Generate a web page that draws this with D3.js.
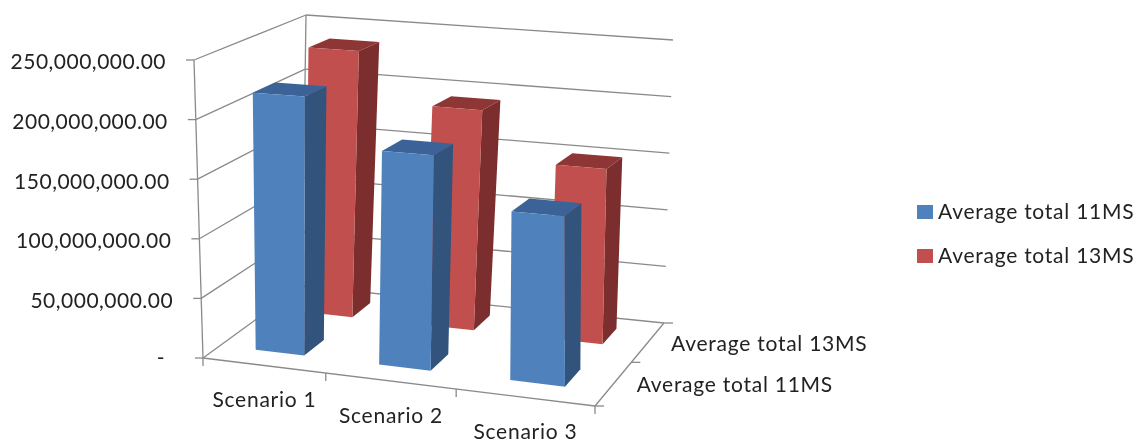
<!DOCTYPE html>
<html>
<head>
<meta charset="utf-8">
<script src="https://cdnjs.cloudflare.com/ajax/libs/d3/7.8.5/d3.min.js"></script>
<style>
html, body { margin: 0; padding: 0; background: #fff; }
svg { display: block; }
text { font-family: Lato, "Open Sans", sans-serif; fill: #222; letter-spacing: 0.75px; }
</style>
</head>
<body>
<script>
// values
var categories = ["Scenario 1", "Scenario 2", "Scenario 3"];
var seriesNames = ["Average total 11MS", "Average total 13MS"];
var values11 = [218000000, 177500000, 137000000];
var values13 = [236000000, 192000000, 150000000];
var yTicks = [0, 50000000, 100000000, 150000000, 200000000, 250000000];
var seriesColors = [
	{ front: "#4f81bd", side: "#30527c", top: "#3a6498" },
	{ front: "#c0504d", side: "#7c2f2e", top: "#8e3634" }
];

var w = 1140,
	h = 443,
	fontSize = 21;

// frame corners on screen: front-left, front-right, back-right, back-left
var floorQuad = [[203, 358], [595, 406], [664, 323], [302, 286]];
var ceilQuad = [[194, 60], [588, 86], [673, 40], [306, 15]];

// maps the unit square on to a quad, so the depth foreshortens
function homography(q) {
	var dx1 = q[1][0] - q[2][0], dx2 = q[3][0] - q[2][0], sx = q[0][0] - q[1][0] + q[2][0] - q[3][0],
		dy1 = q[1][1] - q[2][1], dy2 = q[3][1] - q[2][1], sy = q[0][1] - q[1][1] + q[2][1] - q[3][1],
		den = dx1 * dy2 - dx2 * dy1,
		g = (sx * dy2 - dx2 * sy) / den,
		k = (dx1 * sy - sx * dy1) / den;
	return function (u, v) {
		var m = g * u + k * v + 1;
		return [
			(q[0][0] + (q[1][0] - q[0][0] + g * q[1][0]) * u + (q[3][0] - q[0][0] + k * q[3][0]) * v) / m,
			(q[0][1] + (q[1][1] - q[0][1] + g * q[1][1]) * u + (q[3][1] - q[0][1] + k * q[3][1]) * v) / m
		];
	};
}

var floorMap = homography(floorQuad),
	ceilMap = homography(ceilQuad);

var xScale = d3.scaleBand().domain(categories).range([0, 1]).paddingInner(0.6).paddingOuter(0.3),
	zScale = d3.scaleBand().domain(seriesNames).range([0.01, 1.02]).paddingInner(0.604).paddingOuter(0.292),
	yScale = d3.scaleLinear().domain([0, 250000000]).range([0, 1]);

function project(u, v, val) {
	var a = floorMap(u, v), b = ceilMap(u, v), t = yScale(val);
	return [a[0] + (b[0] - a[0]) * t, a[1] + (b[1] - a[1]) * t];
}

var poly = d3.line().curve(d3.curveLinearClosed);
var yFormat = d3.format(",.2f");

var svg = d3.select("body").append("svg").attr("width", w).attr("height", h);

var defs = svg.append("defs");
defs.append("filter").attr("id", "soft")
	.append("feGaussianBlur").attr("stdDeviation", 0.45);
defs.append("filter").attr("id", "softText")
	.append("feGaussianBlur").attr("stdDeviation", 0.3);

var chart = svg.append("g").attr("filter", "url(#soft)");
var labels = svg.append("g").attr("filter", "url(#softText)");

function seg(g, a, b) {
	g.append("line")
		.attr("x1", a[0]).attr("y1", a[1])
		.attr("x2", b[0]).attr("y2", b[1])
		.attr("stroke", "#8a8a8a").attr("stroke-width", 1.3);
}

// walls
var grid = chart.append("g");
yTicks.forEach(function (t) {
	seg(grid, project(0, 0, t), project(0, 1, t));
	seg(grid, project(0, 1, t), project(1, 1, t));
	var p = project(0, 0, t);
	seg(grid, [p[0] - 8, p[1]], p);
});
seg(grid, project(0, 0, 0), project(0, 0, 250000000));
seg(grid, project(0, 1, 0), project(0, 1, 250000000));

// floor axes and their ticks
seg(grid, project(0, 0, 0), project(1, 0, 0));
seg(grid, project(1, 0, 0), project(1, 1, 0));
d3.range(0, categories.length + 1).forEach(function (i) {
	var p = project(i / categories.length, 0, 0);
	seg(grid, p, [p[0], p[1] + 8]);
});
d3.range(0, seriesNames.length + 1).forEach(function (i) {
	var p = project(1, i / seriesNames.length, 0);
	seg(grid, p, [p[0] + 9, p[1]]);
});

function bar(name, cat, val, colors) {
	var x0 = xScale(cat), x1 = x0 + xScale.bandwidth(),
		z0 = zScale(name), z1 = z0 + zScale.bandwidth();
	var g = chart.append("g");
	g.append("path").attr("fill", colors.side)
		.attr("d", poly([project(x1, z0, 0), project(x1, z1, 0), project(x1, z1, val), project(x1, z0, val)]));
	g.append("path").attr("fill", colors.top)
		.attr("d", poly([project(x0, z0, val), project(x1, z0, val), project(x1, z1, val), project(x0, z1, val)]));
	g.append("path").attr("fill", colors.front)
		.attr("d", poly([project(x0, z0, 0), project(x1, z0, 0), project(x1, z0, val), project(x0, z0, val)]));
}

// back row first, the blue row stands in front of it
categories.forEach(function (c, i) { bar(seriesNames[1], c, values13[i], seriesColors[1]); });
categories.forEach(function (c, i) { bar(seriesNames[0], c, values11[i], seriesColors[0]); });

// value labels
yTicks.forEach(function (t) {
	var p = project(0, 0, t);
	labels.append("text")
		.attr("x", t === 0 ? p[0] - 38 : p[0] - 28)
		.attr("y", p[1] + (t === 0 ? 0 : 2))
		.attr("dy", "0.35em")
		.attr("text-anchor", "end")
		.attr("font-size", fontSize)
		.style("letter-spacing", "0.5px")
		.text(t === 0 ? "-" : yFormat(t));
});

// category labels
categories.forEach(function (c, i) {
	var p = project((i + 0.5) / categories.length, 0, 0);
	labels.append("text")
		.attr("x", p[0] + 1)
		.attr("y", p[1] + 34.5)
		.attr("dy", "0.35em")
		.attr("text-anchor", "middle")
		.attr("font-size", fontSize)
		.text(c);
});

// depth labels
seriesNames.forEach(function (s, i) {
	var p = project(1, (i + 0.5) / seriesNames.length, 0);
	labels.append("text")
		.attr("x", p[0] + 23)
		.attr("y", p[1] + 1)
		.attr("dy", "0.35em")
		.attr("font-size", fontSize)
		.text(s);
});

// legend
var legendY = d3.scalePoint().domain(seriesNames).range([212, 256]);
seriesNames.forEach(function (s, i) {
	chart.append("rect")
		.attr("x", 917).attr("y", legendY(s) - 7)
		.attr("width", 16).attr("height", 14)
		.attr("fill", seriesColors[i].front);
	labels.append("text")
		.attr("x", 938).attr("y", legendY(s))
		.attr("dy", "0.35em")
		.attr("font-size", fontSize)
		.text(s);
});
</script>
</body>
</html>
